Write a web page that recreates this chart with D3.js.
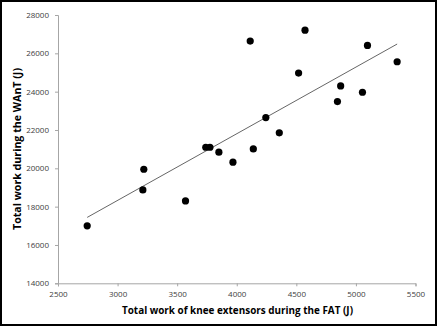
<!DOCTYPE html>
<html>
<head>
<meta charset="utf-8">
<script src="https://cdn.jsdelivr.net/npm/d3@7"></script>
<style>
  html, body { margin: 0; padding: 0; background: #fff; }
  svg { display: block; }
</style>
</head>
<body>
<svg id="chart" width="437" height="326"></svg>
<script>
// Total work of knee extensors during the FAT (J)
const kneeWork = [2745, 3220, 3212, 3570, 3740, 3775, 3850, 3968, 4139, 4244,
                  4357, 4113, 4573, 4519, 4872, 4845, 5055, 5097, 5346];
// Total work during the WAnT (J)
const wantWork = [17000, 19950, 18870, 18300, 21100, 21100, 20840, 20320, 21010, 22650,
                  21850, 26640, 27210, 24970, 24300, 23480, 23970, 26410, 25560];

const xTicks = [2500, 3000, 3500, 4000, 4500, 5000, 5500];
const yTicks = [14000, 16000, 18000, 20000, 22000, 24000, 26000, 28000];

const W = 437, H = 326;
const margin = { left: 58, right: 21.5, top: 15, bottom: 42.7 };

const svg = d3.select("#chart");

// outer frame
svg.append("rect")
  .attr("x", 1).attr("y", 1).attr("width", W - 2).attr("height", H - 2)
  .attr("fill", "#fff").attr("stroke", "#000").attr("stroke-width", 2);

const x = d3.scaleLinear().domain([2500, 5500]).range([margin.left, W - margin.right]);
const y = d3.scaleLinear().domain([14000, 28000]).range([H - margin.bottom, margin.top]);

const tickFont = "'Open Sans', 'Liberation Sans', sans-serif";

// x axis
const gx = svg.append("g")
  .attr("transform", `translate(0,${H - margin.bottom})`)
  .call(d3.axisBottom(x).tickValues(xTicks).tickSize(3).tickPadding(5).tickFormat(d3.format("d")));
// y axis
const gy = svg.append("g")
  .attr("transform", `translate(${margin.left},0)`)
  .call(d3.axisLeft(y).tickValues(yTicks).tickSize(3).tickPadding(6).tickFormat(d3.format("d")));

[gx, gy].forEach(g => {
  g.select(".domain").attr("stroke", "#a6a6a6").attr("stroke-width", 1);
  g.selectAll(".tick line").attr("stroke", "#a6a6a6");
  g.selectAll(".tick text")
    .attr("fill", "#404040")
    .style("font-family", tickFont)
    .style("font-size", "8px");
});

// least-squares trend line across the observed range
const n = kneeWork.length;
const mx = d3.mean(kneeWork), my = d3.mean(wantWork);
let sxy = 0, sxx = 0;
for (let i = 0; i < n; i++) {
  sxy += (kneeWork[i] - mx) * (wantWork[i] - my);
  sxx += (kneeWork[i] - mx) ** 2;
}
const slope = sxy / sxx, intercept = my - slope * mx;
const [x0, x1] = d3.extent(kneeWork);
svg.append("line")
  .attr("x1", x(x0)).attr("y1", y(intercept + slope * x0))
  .attr("x2", x(x1)).attr("y2", y(intercept + slope * x1))
  .attr("stroke", "#666").attr("stroke-width", 1);

// data points
svg.append("g").selectAll("circle")
  .data(d3.range(n))
  .join("circle")
  .attr("cx", i => x(kneeWork[i]))
  .attr("cy", i => y(wantWork[i]))
  .attr("r", 3.6)
  .attr("fill", "#000");

// axis titles
const titleFont = "'Open Sans', 'Liberation Sans', sans-serif";
svg.append("text")
  .attr("x", 237.5).attr("y", 314)
  .attr("text-anchor", "middle")
  .attr("textLength", 231).attr("lengthAdjust", "spacingAndGlyphs")
  .style("font-family", titleFont).style("font-weight", "bold").style("font-size", "11px")
  .attr("fill", "#000")
  .text("Total work of knee extensors during the FAT (J)");

svg.append("text")
  .attr("transform", "translate(21,149) rotate(-90)")
  .attr("text-anchor", "middle")
  .attr("textLength", 162).attr("lengthAdjust", "spacingAndGlyphs")
  .style("font-family", titleFont).style("font-weight", "bold").style("font-size", "11px")
  .attr("fill", "#000")
  .text("Total work during the WAnT (J)");
</script>
</body>
</html>
